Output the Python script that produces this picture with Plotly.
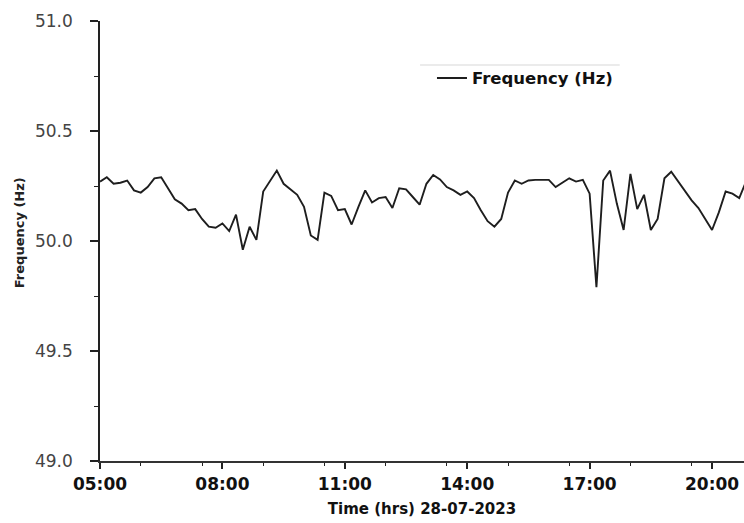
import plotly.graph_objects as go

# Grid frequency readings, 28-07-2023, every 10 minutes
times = [
    "05:00", "05:10", "05:20", "05:30", "05:40", "05:50",
    "06:00", "06:10", "06:20", "06:30", "06:40", "06:50",
    "07:00", "07:10", "07:20", "07:30", "07:40", "07:50",
    "08:00", "08:10", "08:20", "08:30", "08:40", "08:50",
    "09:00", "09:10", "09:20", "09:30", "09:40", "09:50",
    "10:00", "10:10", "10:20", "10:30", "10:40", "10:50",
    "11:00", "11:10", "11:20", "11:30", "11:40", "11:50",
    "12:00", "12:10", "12:20", "12:30", "12:40", "12:50",
    "13:00", "13:10", "13:20", "13:30", "13:40", "13:50",
    "14:00", "14:10", "14:20", "14:30", "14:40", "14:50",
    "15:00", "15:10", "15:20", "15:30", "15:40", "15:50",
    "16:00", "16:10", "16:20", "16:30", "16:40", "16:50",
    "17:00", "17:10", "17:20", "17:30", "17:40", "17:50",
    "18:00", "18:10", "18:20", "18:30", "18:40", "18:50",
    "19:00", "19:10", "19:20", "19:30", "19:40", "19:50",
    "20:00", "20:10", "20:20", "20:30", "20:40", "20:50",
]
frequency_hz = [
    50.27, 50.29, 50.26, 50.265, 50.275, 50.23,
    50.22, 50.245, 50.285, 50.29, 50.24, 50.19,
    50.17, 50.14, 50.145, 50.10, 50.065, 50.06,
    50.08, 50.045, 50.12, 49.96, 50.065, 50.005,
    50.225, 50.27, 50.32, 50.26, 50.235, 50.21,
    50.155, 50.025, 50.005, 50.22, 50.205, 50.14,
    50.145, 50.075, 50.155, 50.23, 50.175, 50.195,
    50.20, 50.15, 50.24, 50.235, 50.20, 50.165,
    50.26, 50.30, 50.28, 50.245, 50.23, 50.21,
    50.225, 50.195, 50.14, 50.09, 50.065, 50.10,
    50.22, 50.275, 50.26, 50.275, 50.278, 50.278,
    50.278, 50.245, 50.265, 50.285, 50.27, 50.278,
    50.215, 49.79, 50.275, 50.32, 50.17, 50.05,
    50.305, 50.145, 50.21, 50.05, 50.10, 50.285,
    50.315, 50.27, 50.225, 50.185, 50.15, 50.10,
    50.05, 50.13, 50.225, 50.215, 50.195, 50.27,
]
date = "2023-07-28"
x_vals = [f"{date} {t}" for t in times]

FONT = "DejaVu Sans, Arial, sans-serif"

fig = go.Figure()
fig.add_trace(go.Scatter(
    x=x_vals, y=frequency_hz, mode="lines", name="Frequency (Hz)",
    line=dict(color="#1e1e1e", width=1.9),
))

fig.update_layout(
    width=744, height=523,
    margin=dict(l=100, r=0, t=21, b=62),
    paper_bgcolor="white", plot_bgcolor="white",
    font=dict(family=FONT, color="#222"),
    showlegend=True,
    legend=dict(
        x=0.5155, y=0.87, xanchor="left", yanchor="middle",
        bgcolor="rgba(0,0,0,0)", borderwidth=0,
        font=dict(size=16.5, color="#111", weight="bold"),
        itemwidth=30,
    ),
    xaxis=dict(
        type="date",
        range=[f"{date} 05:00", f"{date} 20:47"],
        tickformat="%H:%M",
        tick0=f"{date} 05:00", dtick=3 * 3600 * 1000,
        ticks="outside", ticklen=6, tickwidth=1.5, tickcolor="#222",
        minor=dict(ticks="outside", ticklen=3, tickwidth=1.2, tickcolor="#222",
                   dtick=1.5 * 3600 * 1000, showgrid=False),
        showline=True, linecolor="#333", linewidth=2,
        showgrid=False, zeroline=False,
        tickfont=dict(size=17, color="#111", weight="bold"),
        ticklabelstandoff=1,
        title=dict(text="Time (hrs) 28-07-2023",
                   font=dict(size=15, color="#111", weight="bold"), standoff=10),
    ),
    yaxis=dict(
        range=[49.0, 51.0], dtick=0.5, tick0=49.0, tickformat=".1f",
        ticks="outside", ticklen=8, tickwidth=1.5, tickcolor="#222",
        minor=dict(ticks="outside", ticklen=4, tickwidth=1.2, tickcolor="#222",
                   dtick=0.25, showgrid=False),
        showline=True, linecolor="#222", linewidth=1.5,
        showgrid=False, zeroline=False,
        tickfont=dict(size=17, color="#444"),
        ticklabelstandoff=14,
    ),
    shapes=[
        # faint rule along the top of the legend box
        dict(type="line", xref="paper", yref="paper",
             x0=0.497, x1=0.807, y0=0.9, y1=0.9,
             line=dict(color="#e4e4e4", width=1.5)),
    ],
)

# Vertical axis caption placed beside the tick labels
fig.add_annotation(
    text="<b>Frequency (Hz)</b>", textangle=-90,
    xref="paper", yref="paper", x=-0.1258, y=0.52,
    xanchor="center", yanchor="middle", showarrow=False,
    font=dict(size=13, color="#222"),
)

fig.write_html("out.html")
